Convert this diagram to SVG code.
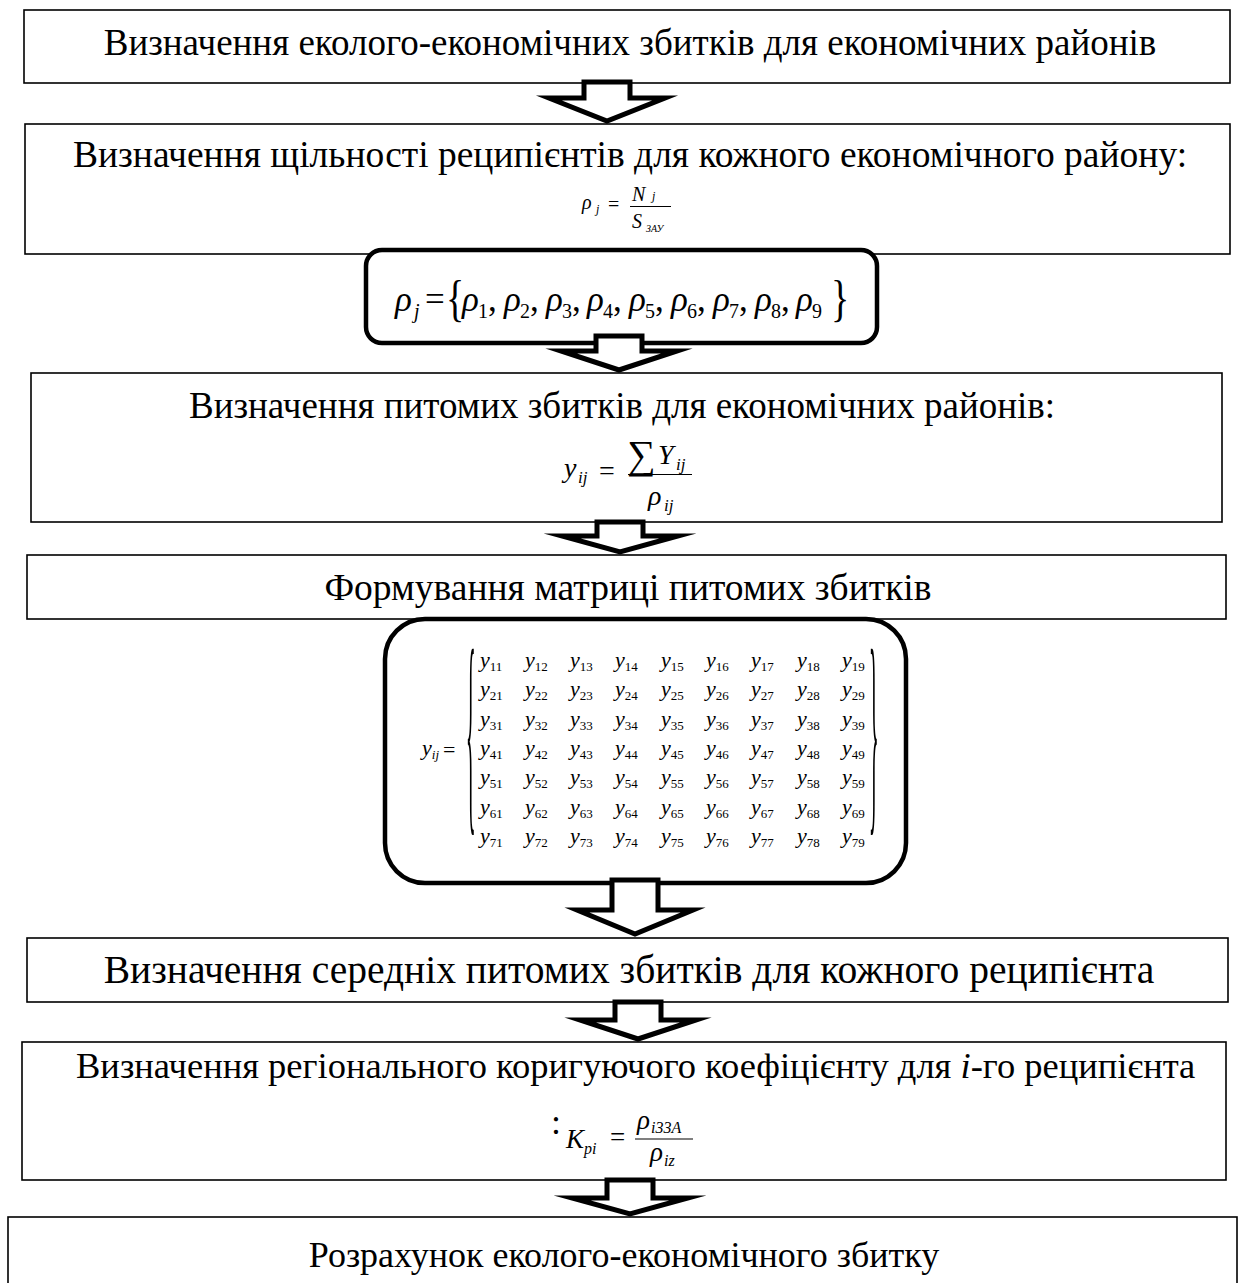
<svg xmlns="http://www.w3.org/2000/svg" width="1243" height="1283" viewBox="0 0 1243 1283">
<style>
.box{fill:#fff;stroke:#000;stroke-width:1.6}
.rbox{fill:#fff;stroke:#000;stroke-width:4.5}
.arr{fill:#fff;stroke:#000;stroke-width:5;stroke-linejoin:miter;stroke-miterlimit:10}
.t{font-family:"Liberation Serif","Times New Roman",serif;font-size:37px;text-anchor:middle;fill:#000}
.f{font-family:"Liberation Serif","Times New Roman",serif;font-style:italic;fill:#000}
.u{font-style:normal}
.my{font-family:"Liberation Serif","Times New Roman",serif;font-style:italic;font-size:22px;fill:#000}
.ms{font-style:normal;font-size:13px}
.br{font-family:"Liberation Serif","Times New Roman",serif;fill:#000}
</style>
<rect width="1243" height="1283" fill="#fff"/>

<g id="n1">
<rect class="box" x="24" y="10" width="1206" height="73"/>
<text class="t" x="630" y="55">Визначення еколого-економічних збитків для економічних районів</text>
</g>

<g id="n2">
<rect class="box" x="25" y="124" width="1205" height="130"/>
<text class="t" x="630" y="167" style="font-size:37.5px">Визначення щільності реципієнтів для кожного економічного району:</text>
<text class="f" font-size="20" x="582" y="209">ρ</text>
<text class="f" font-size="12" x="596" y="213">j</text>
<text class="f u" font-size="20" x="608" y="211">=</text>
<line x1="630" y1="206.5" x2="671" y2="206.5" stroke="#000" stroke-width="1"/>
<text class="f" font-size="20" x="632" y="201">N</text>
<text class="f" font-size="12" x="652" y="200">j</text>
<text class="f" font-size="20" x="632" y="228">S</text>
<text class="f" font-size="10" x="646" y="232">ЗАУ</text>
</g>

<g id="n3">
<rect class="rbox" x="366" y="250" width="511" height="93" rx="16"/>
<text class="f" font-size="35" x="395" y="311">ρ</text>
<text class="f" font-size="20" x="414" y="318">j</text>
<text class="f u" font-size="35" x="425" y="311">=</text>
<text class="br" font-size="38" transform="translate(446,315) scale(1,1.35)">{</text>
<text class="br" font-size="38" transform="translate(831,315) scale(1,1.35)">}</text>
<text class="f" font-size="35" y="311"><tspan x="462">ρ</tspan><tspan x="504">ρ</tspan><tspan x="546">ρ</tspan><tspan x="587">ρ</tspan><tspan x="629">ρ</tspan><tspan x="671">ρ</tspan><tspan x="713">ρ</tspan><tspan x="755">ρ</tspan><tspan x="796">ρ</tspan></text>
<text class="f u" font-size="20" y="318"><tspan x="478">1</tspan><tspan x="520">2</tspan><tspan x="562">3</tspan><tspan x="603">4</tspan><tspan x="645">5</tspan><tspan x="687">6</tspan><tspan x="729">7</tspan><tspan x="771">8</tspan><tspan x="812">9</tspan></text>
<text class="f u" font-size="35" y="311"><tspan x="488">,</tspan><tspan x="530">,</tspan><tspan x="572">,</tspan><tspan x="613">,</tspan><tspan x="655">,</tspan><tspan x="697">,</tspan><tspan x="739">,</tspan><tspan x="781">,</tspan></text>
</g>

<g id="n4">
<rect class="box" x="31" y="373" width="1191" height="149"/>
<text class="t" x="622" y="418">Визначення питомих збитків для економічних районів:</text>
<text class="f" font-size="28" x="564" y="477">y</text>
<text class="f" font-size="17" x="578" y="483">ij</text>
<text class="f u" font-size="28" x="599" y="480">=</text>
<line x1="628" y1="474.5" x2="692" y2="474.5" stroke="#000" stroke-width="1.2"/>
<text class="f u" font-size="40" x="627" y="468">∑</text>
<text class="f" font-size="28" x="658" y="464">Y</text>
<text class="f" font-size="17" x="676" y="470">ij</text>
<text class="f" font-size="28" x="648" y="505">ρ</text>
<text class="f" font-size="17" x="664" y="511">ij</text>
</g>

<g id="n5">
<rect class="box" x="27" y="555" width="1199" height="64"/>
<text class="t" x="628" y="600" style="font-size:37.5px">Формування матриці питомих збитків</text>
</g>

<g id="n6">
<rect class="rbox" x="385" y="619" width="521" height="264" rx="40"/>
<text class="my" x="422" y="755">y<tspan font-size="13" dy="4">ij</tspan></text>
<text class="br" font-size="22" x="443" y="757">=</text>
<text class="br" font-size="20" transform="translate(466,805) scale(1,11.2)">{</text>
<text class="br" font-size="20" transform="translate(869,805) scale(1,11.2)">}</text>
<text class="my" x="480" y="667">y<tspan class="ms" dy="4">11</tspan></text>
<text class="my" x="525" y="667">y<tspan class="ms" dy="4">12</tspan></text>
<text class="my" x="570" y="667">y<tspan class="ms" dy="4">13</tspan></text>
<text class="my" x="615" y="667">y<tspan class="ms" dy="4">14</tspan></text>
<text class="my" x="661" y="667">y<tspan class="ms" dy="4">15</tspan></text>
<text class="my" x="706" y="667">y<tspan class="ms" dy="4">16</tspan></text>
<text class="my" x="751" y="667">y<tspan class="ms" dy="4">17</tspan></text>
<text class="my" x="797" y="667">y<tspan class="ms" dy="4">18</tspan></text>
<text class="my" x="842" y="667">y<tspan class="ms" dy="4">19</tspan></text>
<text class="my" x="480" y="696">y<tspan class="ms" dy="4">21</tspan></text>
<text class="my" x="525" y="696">y<tspan class="ms" dy="4">22</tspan></text>
<text class="my" x="570" y="696">y<tspan class="ms" dy="4">23</tspan></text>
<text class="my" x="615" y="696">y<tspan class="ms" dy="4">24</tspan></text>
<text class="my" x="661" y="696">y<tspan class="ms" dy="4">25</tspan></text>
<text class="my" x="706" y="696">y<tspan class="ms" dy="4">26</tspan></text>
<text class="my" x="751" y="696">y<tspan class="ms" dy="4">27</tspan></text>
<text class="my" x="797" y="696">y<tspan class="ms" dy="4">28</tspan></text>
<text class="my" x="842" y="696">y<tspan class="ms" dy="4">29</tspan></text>
<text class="my" x="480" y="726">y<tspan class="ms" dy="4">31</tspan></text>
<text class="my" x="525" y="726">y<tspan class="ms" dy="4">32</tspan></text>
<text class="my" x="570" y="726">y<tspan class="ms" dy="4">33</tspan></text>
<text class="my" x="615" y="726">y<tspan class="ms" dy="4">34</tspan></text>
<text class="my" x="661" y="726">y<tspan class="ms" dy="4">35</tspan></text>
<text class="my" x="706" y="726">y<tspan class="ms" dy="4">36</tspan></text>
<text class="my" x="751" y="726">y<tspan class="ms" dy="4">37</tspan></text>
<text class="my" x="797" y="726">y<tspan class="ms" dy="4">38</tspan></text>
<text class="my" x="842" y="726">y<tspan class="ms" dy="4">39</tspan></text>
<text class="my" x="480" y="755">y<tspan class="ms" dy="4">41</tspan></text>
<text class="my" x="525" y="755">y<tspan class="ms" dy="4">42</tspan></text>
<text class="my" x="570" y="755">y<tspan class="ms" dy="4">43</tspan></text>
<text class="my" x="615" y="755">y<tspan class="ms" dy="4">44</tspan></text>
<text class="my" x="661" y="755">y<tspan class="ms" dy="4">45</tspan></text>
<text class="my" x="706" y="755">y<tspan class="ms" dy="4">46</tspan></text>
<text class="my" x="751" y="755">y<tspan class="ms" dy="4">47</tspan></text>
<text class="my" x="797" y="755">y<tspan class="ms" dy="4">48</tspan></text>
<text class="my" x="842" y="755">y<tspan class="ms" dy="4">49</tspan></text>
<text class="my" x="480" y="784">y<tspan class="ms" dy="4">51</tspan></text>
<text class="my" x="525" y="784">y<tspan class="ms" dy="4">52</tspan></text>
<text class="my" x="570" y="784">y<tspan class="ms" dy="4">53</tspan></text>
<text class="my" x="615" y="784">y<tspan class="ms" dy="4">54</tspan></text>
<text class="my" x="661" y="784">y<tspan class="ms" dy="4">55</tspan></text>
<text class="my" x="706" y="784">y<tspan class="ms" dy="4">56</tspan></text>
<text class="my" x="751" y="784">y<tspan class="ms" dy="4">57</tspan></text>
<text class="my" x="797" y="784">y<tspan class="ms" dy="4">58</tspan></text>
<text class="my" x="842" y="784">y<tspan class="ms" dy="4">59</tspan></text>
<text class="my" x="480" y="814">y<tspan class="ms" dy="4">61</tspan></text>
<text class="my" x="525" y="814">y<tspan class="ms" dy="4">62</tspan></text>
<text class="my" x="570" y="814">y<tspan class="ms" dy="4">63</tspan></text>
<text class="my" x="615" y="814">y<tspan class="ms" dy="4">64</tspan></text>
<text class="my" x="661" y="814">y<tspan class="ms" dy="4">65</tspan></text>
<text class="my" x="706" y="814">y<tspan class="ms" dy="4">66</tspan></text>
<text class="my" x="751" y="814">y<tspan class="ms" dy="4">67</tspan></text>
<text class="my" x="797" y="814">y<tspan class="ms" dy="4">68</tspan></text>
<text class="my" x="842" y="814">y<tspan class="ms" dy="4">69</tspan></text>
<text class="my" x="480" y="843">y<tspan class="ms" dy="4">71</tspan></text>
<text class="my" x="525" y="843">y<tspan class="ms" dy="4">72</tspan></text>
<text class="my" x="570" y="843">y<tspan class="ms" dy="4">73</tspan></text>
<text class="my" x="615" y="843">y<tspan class="ms" dy="4">74</tspan></text>
<text class="my" x="661" y="843">y<tspan class="ms" dy="4">75</tspan></text>
<text class="my" x="706" y="843">y<tspan class="ms" dy="4">76</tspan></text>
<text class="my" x="751" y="843">y<tspan class="ms" dy="4">77</tspan></text>
<text class="my" x="797" y="843">y<tspan class="ms" dy="4">78</tspan></text>
<text class="my" x="842" y="843">y<tspan class="ms" dy="4">79</tspan></text>
</g>

<g id="n7">
<rect class="box" x="27" y="938" width="1201" height="64"/>
<text class="t" x="629" y="983" style="font-size:39.5px">Визначення середніх питомих збитків для кожного реципієнта</text>
</g>

<g id="n8">
<rect class="box" x="22" y="1042" width="1204" height="138"/>
<text class="t" x="76" y="1078" style="text-anchor:start;font-size:36.5px">Визначення регіонального коригуючого коефіцієнту для <tspan font-style="italic">i</tspan>-го реципієнта</text>
<text class="br" font-size="36" x="551" y="1134">:</text>
<text class="f" font-size="27" x="566" y="1148">K</text>
<text class="f" font-size="16" x="584" y="1154">pi</text>
<text class="f u" font-size="27" x="610" y="1146">=</text>
<line x1="635" y1="1139" x2="693" y2="1139" stroke="#000" stroke-width="1.1"/>
<text class="f" font-size="27" x="637" y="1129">ρ</text>
<text class="f" font-size="16" x="651" y="1133">i33A</text>
<text class="f" font-size="27" x="650" y="1161">ρ</text>
<text class="f" font-size="16" x="664" y="1166">iz</text>
</g>

<g id="n9">
<rect class="box" x="8" y="1217" width="1229" height="90"/>
<text class="t" x="624" y="1267" style="font-size:36px">Розрахунок еколого-економічного збитку</text>
</g>

<g id="connectors">
<polygon class="arr" points="584,82 630,82 630,98 665,98 607,121 549,98 584,98"/>
<polygon class="arr" points="596,336 642,336 642,351 677,351 619,370 561,351 596,351"/>
<polygon class="arr" points="597,522 643,522 643,536 678,536 620,552 562,536 597,536"/>
<polygon class="arr" points="612,880 658,880 658,910 693,910 635,934 577,910 612,910"/>
<polygon class="arr" points="615,1002 661,1002 661,1020 696,1020 638,1039 580,1020 615,1020"/>
<polygon class="arr" points="607,1180 653,1180 653,1198 688,1198 630,1214 572,1198 607,1198"/>
</g>
</svg>
